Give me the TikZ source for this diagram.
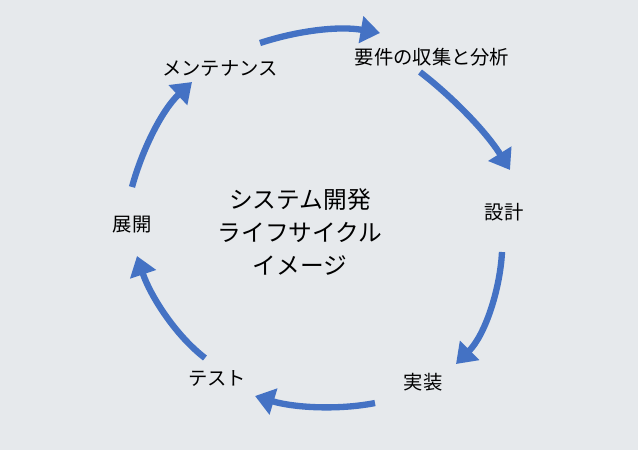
\documentclass[tikz,border=0pt]{standalone}
\usepackage{fontspec}
\setmainfont{Noto Sans CJK JP}
\usetikzlibrary{arrows.meta}
\definecolor{bg}{HTML}{E6E9EC}
\definecolor{arr}{HTML}{4472C4}
\tikzset{
  lbl/.style={font=\fontsize{11pt}{13pt}\selectfont, text=black},
  ttl/.style={font=\fontsize{13.5pt}{19pt}\selectfont, align=center, text=black},
  cyc/.style={draw=arr, line width=3.6pt, -{Triangle[length=11pt,width=15pt]}}
}
\begin{document}
\begin{tikzpicture}[x=0.02cm,y=-0.02cm]
\fill[bg] (0,0) rectangle (638,450);
\node[lbl] (m) at (220,68) {メンテナンス};
\node[lbl] (r) at (432,57) {要件の収集と分析};
\node[lbl] (d) at (504,212) {設計};
\node[lbl] (i) at (423,382) {実装};
\node[lbl] (t) at (217,378) {テスト};
\node[lbl] (p) at (132,225) {展開};
\node[ttl] (c) at (300,232) {システム開発\\ライフサイクル\\イメージ};
\coordinate (a1) at (260,43); \coordinate (b1) at (380,33);
\coordinate (a2) at (420,72); \coordinate (b2) at (510,170);
\coordinate (a3) at (502,252); \coordinate (b3) at (456,364);
\coordinate (a4) at (375,403); \coordinate (b4) at (255,396);
\coordinate (a5) at (205,358); \coordinate (b5) at (137,256);
\coordinate (a6) at (132,187); \coordinate (b6) at (192,82);
\draw[cyc] (a1) .. controls (300,30) and (340,26) .. (b1);
\draw[cyc] (a2) .. controls (450,95) and (485,130) .. (b2);
\draw[cyc] (a3) .. controls (500,290) and (485,335) .. (b3);
\draw[cyc] (a4) .. controls (340,410) and (295,408) .. (b4);
\draw[cyc] (a5) .. controls (175,335) and (150,295) .. (b5);
\draw[cyc] (a6) .. controls (142,150) and (162,110) .. (b6);
\end{tikzpicture}
\end{document}
